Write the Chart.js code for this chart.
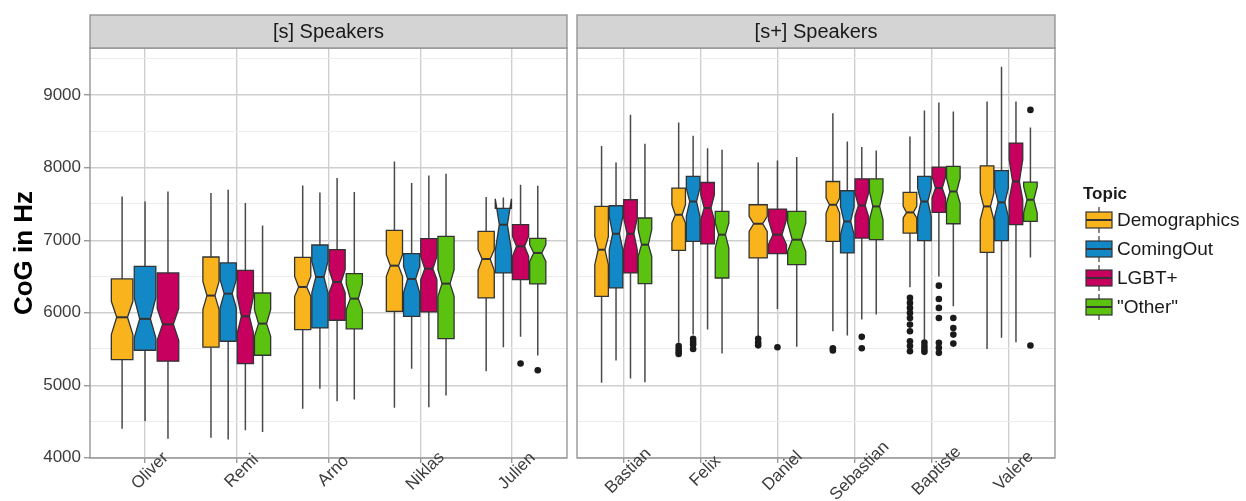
<!DOCTYPE html>
<html><head><meta charset="utf-8">
<script src="https://cdn.jsdelivr.net/npm/chart.js@4.4.1/dist/chart.umd.min.js"></script>
<style>
html,body{margin:0;padding:0;background:#fff;}
#wrap{position:relative;width:1246px;height:501px;overflow:hidden;background:#fff}
#cA{position:absolute;left:0;top:0}
#cB{position:absolute;left:572px;top:0}
</style></head><body>
<div id="wrap"><canvas id="cA" width="572" height="501"></canvas><canvas id="cB" width="674" height="501"></canvas></div>
<script>
// ---------------- DATA ----------------
const sSpeakers = ['Oliver','Remi','Arno','Niklas','Julien'];
const sPlusSpeakers = ['Bastian','Felix','Daniel','Sebastian','Baptiste','Valere'];
const topics = ['Demographics','ComingOut','LGBT+','"Other"'];
const panelTitles = ['[s] Speakers','[s+] Speakers'];
const yTickValues = [4000,4500,5000,5500,6000,6500,7000,7500,8000,8500,9000,9500];
const yAxisTitle = 'CoG in Hz';
const legendTitle = 'Topic';

// one row per speaker (Oliver ... Julien, Bastian ... Valere):
// [lower whisker, Q1, lower notch, median, upper notch, Q3, upper whisker]
const demographics = [
  [4399,5354,5698,5937,6157,6466,7603],
  [4275,5524,6043,6236,6433,6768,7650],
  [4675,5767,6226,6355,6501,6763,7755],
  [4689,6019,6501,6649,6800,7135,8085],
  [5193,6204,6584,6741,6869,7121,7595],
  [5033,6226,6662,6869,7052,7466,8301],
  [5584,6860,7237,7351,7489,7719,8623],
  [5675,6755,7121,7227,7328,7489,8072],
  [5744,6984,7375,7489,7581,7810,8752],
  [6350,7099,7306,7383,7466,7659,8430],
  [5501,6832,7282,7466,7650,8026,8912]
];
const comingOut = [
  [4504,5482,5653,5915,6204,6639,7534],
  [4252,5606,6066,6263,6456,6686,7695],
  [4950,5790,6273,6493,6708,6934,7659],
  [5226,5950,6273,6466,6639,6814,7788],
  [5524,6548,6857,7214,7571,7440,7590],
  [5340,6342,6869,7089,7328,7475,8072],
  [5698,6984,7328,7534,7719,7879,8439],
  null,
  [5685,6824,7076,7259,7466,7682,8361],
  [5630,6993,7328,7534,7719,7879,8788],
  [5653,6993,7328,7521,7719,7961,9394]
];
const lgbt = [
  [4262,5331,5620,5840,6060,6548,7672],
  [4380,5299,5722,5950,6226,6584,7512],
  [4780,5896,6273,6424,6594,6869,7857],
  [4697,6011,6456,6607,6777,7021,7893],
  [5667,6456,6777,6915,7052,7214,7764],
  [5092,6548,6869,7089,7306,7558,8729],
  [5767,6948,7282,7444,7627,7796,8270],
  [6052,6814,6938,7076,7282,7430,8099],
  [5905,7030,7328,7479,7650,7847,8284],
  [6501,7383,7581,7719,7879,8008,8898],
  [5592,7214,7558,7810,8109,8339,8912]
];
const other = [
  null,
  [4353,5413,5675,5850,6043,6272,7204],
  [4803,5777,6043,6194,6401,6538,7664],
  [4858,5643,6226,6401,6594,7052,7916],
  [5409,6397,6708,6824,6938,7025,7750],
  [5041,6401,6777,6938,7145,7306,8329],
  [5437,6479,6893,7076,7237,7397,8247],
  [5529,6662,6846,7007,7237,7397,8146],
  [5974,7007,7282,7466,7672,7847,8237],
  [6088,7227,7512,7672,7857,8017,8774],
  [6763,7259,7375,7558,7741,7801,8554]
];
// outliers: [speaker, value]
const demographicsOutliers = [
  ['Felix',5540],['Felix',5500],['Felix',5460],['Felix',5430],
  ['Daniel',5640],['Daniel',5590],['Daniel',5550],
  ['Sebastian',5510],['Sebastian',5480],
  ['Baptiste',6204],['Baptiste',6135],['Baptiste',6066],['Baptiste',5997],['Baptiste',5928],
  ['Baptiste',5836],['Baptiste',5744],['Baptiste',5606],['Baptiste',5540],['Baptiste',5468]
];
const comingOutOutliers = [
  ['Felix',5640],['Felix',5600],['Felix',5560],['Felix',5500],
  ['Baptiste',5590],['Baptiste',5540],['Baptiste',5500],['Baptiste',5460]
];
const lgbtOutliers = [
  ['Julien',5299],['Daniel',5524],
  ['Sebastian',5667],['Sebastian',5510],
  ['Baptiste',6373],['Baptiste',6190],['Baptiste',6066],['Baptiste',5928],
  ['Baptiste',5584],['Baptiste',5515],['Baptiste',5446]
];
const otherOutliers = [
  ['Julien',5207],
  ['Baptiste',5928],['Baptiste',5790],['Baptiste',5698],['Baptiste',5574],
  ['Valere',8797],['Valere',5547]
];

// ---------------- STYLE ----------------
const FONT = '"Liberation Sans", Arial, Helvetica, sans-serif';
const topicColors = ['#F9B31C','#1388C7','#C7005F','#5BC30F'];
const GROUP_W = 0.75, BOX_FILL = 0.94;
const MAJOR_GRID = '#cfcfcf', MINOR_GRID = '#ececec', BORDER = '#8f8f8f';

const topicStats = [demographics, comingOut, lgbt, other];
const topicOutliers = [demographicsOutliers, comingOutOutliers, lgbtOutliers, otherOutliers];

function presentTopics(g){ return topicStats.map((a,t)=>a[g]?t:-1).filter(t=>t>=0); }
function dodgeX(local,k,n){ const slot=GROUP_W/n; return local+1-GROUP_W/2+slot*(k+0.5); }

function makeBoxPlugin(speakers, offset){
  return {
    id:'notchedBoxes',
    beforeDatasetsDraw(chart){
      const ctx = chart.ctx, xs = chart.scales.x, ys = chart.scales.y;
      const Y = v => ys.getPixelForValue(v);
      speakers.forEach((sp, local)=>{
        const g = offset+local, pr = presentTopics(g), n = pr.length;
        pr.forEach((t,k)=>{
          const [wl,q1,nl,med,nu,q3,wh] = topicStats[t][g];
          const cx = dodgeX(local,k,n), hw = GROUP_W/n*BOX_FILL/2;
          const xl = xs.getPixelForValue(cx-hw), xr = xs.getPixelForValue(cx+hw), xc = xs.getPixelForValue(cx);
          const ind = (xr-xl)/2*0.5;
          ctx.save();
          ctx.strokeStyle = '#4a4a4a'; ctx.lineWidth = 1.5;
          ctx.beginPath();
          ctx.moveTo(xc, Y(q3)); ctx.lineTo(xc, Y(wh));
          ctx.moveTo(xc, Y(q1)); ctx.lineTo(xc, Y(wl));
          ctx.stroke();
          ctx.beginPath();
          ctx.moveTo(xl, Y(q3)); ctx.lineTo(xl, Y(nu)); ctx.lineTo(xl+ind, Y(med)); ctx.lineTo(xl, Y(nl)); ctx.lineTo(xl, Y(q1));
          ctx.lineTo(xr, Y(q1)); ctx.lineTo(xr, Y(nl)); ctx.lineTo(xr-ind, Y(med)); ctx.lineTo(xr, Y(nu)); ctx.lineTo(xr, Y(q3));
          ctx.closePath();
          ctx.fillStyle = topicColors[t]; ctx.fill();
          ctx.strokeStyle = '#333333'; ctx.lineWidth = 1.3; ctx.stroke();
          ctx.beginPath(); ctx.moveTo(xl+ind, Y(med)); ctx.lineTo(xr-ind, Y(med));
          ctx.lineWidth = 2; ctx.stroke();
          ctx.restore();
        });
      });
    }
  };
}

function makeOverlay(speakers, title, withLegend, canvasLeft){
  return {
    id:'overlay',
    afterDraw(chart){
      const ctx = chart.ctx, ca = chart.chartArea, xs = chart.scales.x;
      ctx.save();
      // panel border
      ctx.strokeStyle = BORDER; ctx.lineWidth = 1.3;
      ctx.strokeRect(ca.left, ca.top, ca.right-ca.left, ca.bottom-ca.top);
      // strip
      ctx.fillStyle = '#d4d4d4';
      ctx.fillRect(ca.left, 15, ca.right-ca.left, ca.top-15);
      ctx.strokeRect(ca.left, 15, ca.right-ca.left, ca.top-15);
      ctx.fillStyle = '#1a1a1a'; ctx.font = '20px '+FONT;
      ctx.textAlign = 'center'; ctx.textBaseline = 'middle';
      ctx.fillText(title, (ca.left+ca.right)/2, 32);
      // rotated x labels
      ctx.fillStyle = '#3d3d3d'; ctx.font = '17px '+FONT;
      speakers.forEach((s,i)=>{
        const px = xs.getPixelForValue(i+1)+5;
        ctx.save(); ctx.translate(px, 471); ctx.rotate(-Math.PI/4);
        ctx.fillText(s, 0, 0); ctx.restore();
      });
      if (withLegend){
        const L = x => x - canvasLeft;
        ctx.textAlign = 'left'; ctx.fillStyle = '#1a1a1a';
        ctx.font = 'bold 17px '+FONT;
        ctx.fillText(legendTitle, L(1083), 194);
        ctx.font = '19px '+FONT;
        topics.forEach((name,t)=>{
          const cy = 220 + 29*t;
          ctx.strokeStyle = '#4a4a4a'; ctx.lineWidth = 1.3;
          ctx.beginPath(); ctx.moveTo(L(1099), cy-13); ctx.lineTo(L(1099), cy+13); ctx.stroke();
          ctx.fillStyle = topicColors[t];
          ctx.fillRect(L(1086), cy-8, 26, 16);
          ctx.strokeStyle = '#333'; ctx.lineWidth = 1.2;
          ctx.strokeRect(L(1086), cy-8, 26, 16);
          ctx.lineWidth = 2;
          ctx.beginPath(); ctx.moveTo(L(1086), cy); ctx.lineTo(L(1112), cy); ctx.stroke();
          ctx.fillStyle = '#1a1a1a';
          ctx.fillText(name, L(1117), cy+1);
        });
      }
      ctx.restore();
    }
  };
}

function makePanel(canvasId, speakers, offset, title, isLeft){
  const datasets = topics.map((name,t)=>({
    label: name,
    data: topicOutliers[t].filter(o=>speakers.includes(o[0])).map(o=>{
      const local = speakers.indexOf(o[0]), pr = presentTopics(offset+local);
      return {x: dodgeX(local, pr.indexOf(t), pr.length), y: o[1]};
    }),
    pointRadius: 3.3, pointHoverRadius: 3.3, pointBackgroundColor: '#1a1a1a',
    pointBorderWidth: 0, showLine: false
  }));
  const isMajor = c => c.tick && c.tick.value % 1000 === 0;
  new Chart(document.getElementById(canvasId), {
    type: 'scatter',
    data: { datasets },
    options: {
      responsive: false, animation: false, devicePixelRatio: 1,
      layout: { padding: isLeft ? {left:0, top:48, right:5, bottom:0} : {left:5, top:48, right:191, bottom:0}, autoPadding: false },
      plugins: { legend:{display:false}, tooltip:{enabled:false}, title:{display:false} },
      events: [],
      scales: {
        x: {
          type: 'linear', min: 0.4, max: speakers.length + 0.6,
          afterBuildTicks: s => { s.ticks = speakers.map((_,i)=>({value:i+1})); },
          ticks: { display: false },
          grid: { color: MAJOR_GRID, lineWidth: 1.4, drawTicks: true, tickLength: 5, tickColor: '#9a9a9a' },
          border: { display: false },
          afterFit: s => { s.height = 43; }
        },
        y: {
          type: 'linear', min: 3996, max: 9651,
          afterBuildTicks: s => { s.ticks = yTickValues.map(v=>({value:v})); },
          ticks: {
            display: isLeft,
            callback: v => (v % 1000 === 0 ? String(v) : ''),
            color: '#3d3d3d', font: { family: FONT, size: 17 }, padding: 3
          },
          grid: {
            color: c => isMajor(c) ? MAJOR_GRID : MINOR_GRID,
            lineWidth: c => isMajor(c) ? 1.4 : 1,
            drawTicks: isLeft, tickLength: 6,
            tickColor: c => isMajor(c) ? '#9a9a9a' : 'rgba(0,0,0,0)'
          },
          border: { display: false },
          title: isLeft ? { display: true, text: yAxisTitle, color: '#000',
            font: { family: FONT, size: 26, weight: 'bold' }, padding: { top: 9, bottom: 0 } } : { display: false },
          afterFit: s => { s.width = isLeft ? 90 : 0; }
        }
      }
    },
    plugins: [makeBoxPlugin(speakers, offset), makeOverlay(speakers, title, !isLeft, isLeft ? 0 : 572)]
  });
}

makePanel('cA', sSpeakers, 0, panelTitles[0], true);
makePanel('cB', sPlusSpeakers, sSpeakers.length, panelTitles[1], false);
</script>
</body></html>
